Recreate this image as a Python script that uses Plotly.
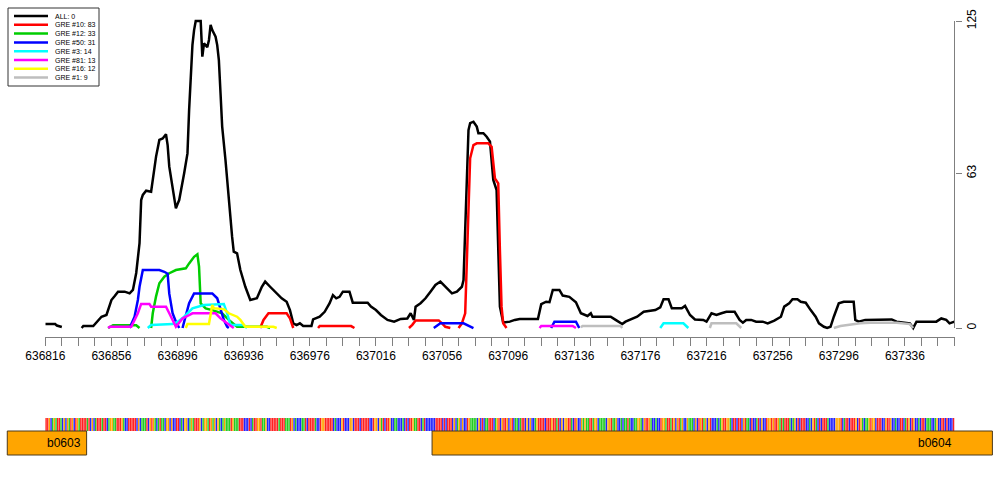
import plotly.graph_objects as go

# ---------------- data ----------------
VIEW_START = 636816
VIEW_END = 637366

series_names = ["ALL: 0", "GRE #10: 83", "GRE #12: 33", "GRE #50: 31",
                "GRE #3: 14", "GRE #81: 13", "GRE #16: 12", "GRE #1: 9"]
series_colors = ["#000000", "#FF0000", "#00CD00", "#0000FF",
                 "#00FFFF", "#FF00FF", "#FFFF00", "#BEBEBE"]

G = (None, None)

all_sites = [
    (636816, 1.6), (636822, 1.6), (636823, 1.0), (636826, 0.4), G,
    (636838, 0.0), (636839, 0.8), (636845, 0.8), (636847, 2.4), (636850, 4.6),
    (636853, 5.3), (636856, 11.4), (636858, 13.0), (636860, 14.8), (636864, 14.8),
    (636867, 14.1), (636869, 15.5), (636871, 22.4), (636873, 34.6), (636874, 52.1),
    (636875, 54.2), (636877, 55.9), (636880, 55.5), (636881, 60.3), (636883, 69.8),
    (636885, 76.6), (636887, 77.2), (636889, 78.9), (636890, 74.5), (636891, 65.7),
    (636893, 56.2), (636895, 48.7), (636896, 50.5), (636897, 52.1), (636900, 63.0),
    (636902, 71.1), (636903, 88.8), (636904, 102.3), (636905, 115.2), (636906, 121.3),
    (636907, 125.0), (636910, 125.0), (636911, 110.5), (636912, 115.9), (636914, 114.3),
    (636915, 117.3), (636916, 123.4), (636917, 121.3), (636919, 118.6), (636920, 115.2),
    (636921, 109.1), (636922, 95.6), (636923, 82.0), (636925, 68.4), (636927, 50.9),
    (636929, 37.2), (636930, 31.1), (636932, 30.4), (636934, 23.6), (636937, 16.8),
    (636940, 11.4), (636944, 12.1), (636947, 16.8), (636949, 18.9), (636952, 16.8),
    (636956, 14.1), (636959, 12.1), (636962, 10.7), (636964, 7.3), (636966, 1.9),
    (636968, 1.2), (636970, 1.9), (636972, 0.8), (636977, 0.8), (636978, 3.5),
    (636982, 4.6), (636985, 6.6), (636988, 10.1), (636990, 13.4), (636992, 12.1),
    (636994, 12.7), (636996, 14.8), (637000, 14.8), (637002, 10.3), (637008, 10.1),
    (637011, 10.3), (637013, 8.7), (637016, 7.3), (637019, 5.3), (637023, 3.3),
    (637027, 2.6), (637031, 3.7), (637035, 3.9), (637037, 6.0), (637039, 3.3),
    (637040, 8.7), (637043, 10.1), (637046, 12.1), (637049, 14.8), (637052, 17.5),
    (637055, 18.9), (637058, 16.8), (637062, 14.1), (637065, 14.8), (637068, 16.8),
    (637069, 19.5), (637070, 38.6), (637071, 65.7), (637072, 80.6), (637073, 83.4),
    (637075, 84.0), (637077, 82.0), (637078, 79.3), (637081, 79.3), (637083, 77.9),
    (637085, 75.9), (637087, 60.3), (637089, 56.2), (637090, 31.8), (637091, 8.7),
    (637093, 2.2), (637097, 2.6), (637100, 3.3), (637103, 3.7), (637114, 3.7),
    (637116, 9.7), (637119, 10.7), (637121, 10.5), (637123, 15.5), (637127, 15.5),
    (637129, 13.2), (637133, 12.7), (637137, 10.5), (637140, 6.0), (637144, 4.9),
    (637146, 6.0), (637147, 4.6), (637158, 4.6), (637161, 3.3), (637165, 1.6),
    (637167, 2.6), (637170, 3.5), (637174, 4.6), (637178, 6.6), (637185, 7.3),
    (637188, 8.4), (637190, 11.7), (637193, 11.7), (637195, 8.0), (637201, 8.0),
    (637203, 9.0), (637206, 5.3), (637209, 3.5), (637214, 3.3), (637216, 2.6),
    (637219, 6.0), (637222, 5.3), (637225, 6.0), (637228, 6.6), (637233, 6.6),
    (637236, 3.3), (637238, 2.2), (637240, 3.3), (637243, 3.3), (637246, 2.6),
    (637250, 2.6), (637253, 1.9), (637257, 3.0), (637261, 4.6), (637263, 8.7),
    (637266, 10.1), (637268, 11.7), (637271, 11.7), (637273, 10.7), (637276, 10.3),
    (637279, 7.3), (637282, 4.6), (637284, 1.9), (637287, 0.5), (637289, 0.0),
    (637291, 0.5), (637293, 4.6), (637296, 10.1), (637299, 10.7), (637305, 10.7),
    (637306, 3.3), (637308, 2.6), (637312, 3.3), (637319, 3.5), (637328, 3.5),
    (637331, 2.6), (637339, 1.9), (637341, 0.0), (637343, 2.6), (637355, 2.6),
    (637358, 3.9), (637361, 3.3), (637363, 1.9), (637366, 2.6),
]

gre10_sites = [
    (636946, 0), (636948, 3.3), (636951, 6.0), (636962, 6.0), (636964, 3.9), (636966, 0), G,
    (636981, 0), (636982, 0.8), (637001, 0.8), (637003, 0), G,
    (637036, 0), (637038, 1.3), (637040, 3.1), (637054, 3.1), (637056, 1.9), (637058, 0.5), (637061, 0), G,
    (637066, 0), (637068, 1.9), (637070, 6.0), (637071, 25.4), (637072, 52.5), (637073, 69.1),
    (637075, 74.5), (637077, 75.2), (637084, 75.2), (637086, 73.8), (637088, 60.9), (637090, 58.9),
    (637091, 31.8), (637092, 8.7), (637093, 1.9), (637095, 0),
]

gre12_sites = [
    (636854, 0), (636857, 1.1), (636871, 1.1), (636873, 0), G,
    (636880, 0), (636881, 6.0), (636883, 12.9), (636885, 18.2), (636888, 20.9), (636891, 22.3),
    (636895, 23.6), (636901, 24.3), (636903, 26.3), (636906, 29.0), (636908, 30.0), (636909, 25.0),
    (636910, 10.0), (636913, 8.0), (636917, 7.3), (636923, 6.0), (636927, 3.3), (636932, 0.5),
    (636950, 0.5), (636952, 0),
]

gre50_sites = [
    (636867, 0), (636870, 4.6), (636872, 11.4), (636873, 16.8), (636875, 23.6), (636885, 23.6),
    (636888, 22.9), (636890, 22.1), (636891, 14.0), (636893, 6.0), (636895, 2.6), (636897, 0), G,
    (636899, 0), (636901, 4.6), (636903, 10.1), (636906, 14.1), (636917, 14.1), (636920, 12.1),
    (636922, 7.3), (636924, 3.3), (636926, 0.5), (636927, 0), G,
    (637051, 0), (637053, 0.8), (637055, 1.9), (637069, 1.9), (637071, 1.2), (637073, 0.5), (637075, 0), G,
    (637122, 0), (637124, 2.6), (637137, 2.6), (637139, 0),
]

gre3_sites = [
    (636878, 0), (636880, 1.2), (636893, 1.6), (636896, 2.5), (636900, 4.6), (636905, 8.0),
    (636912, 9.4), (636924, 9.8), (636926, 6.0), (636928, 1.2), (636936, 1.2), (636938, 0), G,
    (637188, 0), (637190, 1.9), (637202, 1.9), (637205, 0),
]

gre81_sites = [
    (636854, 0), (636855, 0.5), (636868, 0.5), (636870, 3.3), (636872, 6.0), (636874, 9.8),
    (636879, 9.8), (636880, 8.7), (636889, 8.7), (636891, 6.0), (636893, 3.3), (636895, 0.5),
    (636897, 2.2), (636899, 3.9), (636902, 4.9), (636905, 6.0), (636919, 6.0), (636922, 3.9),
    (636926, 1.9), (636930, 0), G,
    (637115, 0), (637116, 0.8), (637135, 0.8), (637137, 0),
]

gre16_sites = [
    (636901, 0), (636902, 1.6), (636915, 1.6), (636916, 6.0), (636917, 9.4), (636918, 8.0),
    (636924, 7.7), (636927, 6.0), (636932, 4.6), (636934, 3.3), (636936, 1.6), (636937, 0.5),
    (636954, 0.5), (636956, 0),
]

gre1_sites = [
    (637140, 0.3), (637141, 0.8), (637164, 0.8), (637165, 0), G,
    (637218, 0), (637219, 1.9), (637234, 1.9), (637237, 0), G,
    (637293, 0), (637297, 0.8), (637309, 1.9), (637315, 2.1), (637331, 2.1), (637339, 1.6), (637341, 0),
]

y_ticks = [0, 63, 125]

# genes in view
gene_names = ["b0603", "b0604"]
gene_starts = [636793, 637050]
gene_ends = [636841, 637389]

# DNA sequence of the window (read approximately from the colour strip)
sequence = (
    "TTGCAGATTACGCGATGCTGATTTTATCGCATTTATTCAGGAATTTGACC"
    "TTTTTCGCAAATCGTGACATAACGGCGCCTTCACGGCAGATTTGCAGGAT"
    "GAGCGACAGAAATGAAATTTCCCTCATTGGTAAGCCTTTTTATTTAAATG"
    "CACCCAATCTTTTACCTGGTTTTTCACCCGTCCCGGCTTTCTTTTTCCTG"
    "GCGATCTTGCCAACCCACTCTTGAATTCATCCCCCCTTTTCTCTTTCGCA"
    "GCGCCTGAAAACGCTCAATTTCAGTCGTTGCGTCAACATTCGCGCCAGTT"
    "TTCTTTGTTATCGCGGTTACTGCCGAGAATTAGGCAAAACGGTAAGCCAC"
    "AATACCAAGGACGTTGACCACCTGGATTATGCGTAGCCGAAACGCTGTAG"
    "CGTCCCACAGTTGGACTTCTTCGTAACTCCATCGCCTGGTGTTGATATTT"
    "ACAGCTCTTTCCACGTACTCTTTACCCCGGGTCATTCTTTGCTGACAAGT"
    "GGCTTTCCGTTGCCACCTTCATGCTGCCACTTCAAACCAGCCTTCTCCCT"
)
base_colors = {"A": "#22CC22", "C": "#2222FF", "G": "#FFA500", "T": "#FF2020"}

# ---------------- figure ----------------
FONT = "Liberation Sans, Arial, Helvetica, sans-serif"
W, H = 1000, 500

all_series = [all_sites, gre10_sites, gre12_sites, gre50_sites,
              gre3_sites, gre81_sites, gre16_sites, gre1_sites]

fig = go.Figure()
for sites, color in zip(all_series, series_colors):
    fig.add_trace(go.Scatter(
        x=[p for p, v in sites], y=[v for p, v in sites],
        mode="lines", line=dict(color=color, width=2.5),
        connectgaps=False, showlegend=False, hoverinfo="skip",
        xaxis="x", yaxis="y"))

# sequence strip
seq_pos = [VIEW_START + i + 0.5 for i in range(len(sequence))]
fig.add_trace(go.Bar(
    x=seq_pos, y=[13] * len(sequence), base=[69] * len(sequence),
    width=0.85, marker=dict(color=[base_colors[b] for b in sequence], line=dict(width=0)),
    opacity=1.0, showlegend=False, hoverinfo="skip", xaxis="x2", yaxis="y2"))

shapes = []
annotations = []

# y axis line only over the 0..max span
shapes.append(dict(type="line", xref="x domain", yref="y", x0=1, x1=1,
                   y0=y_ticks[0], y1=y_ticks[-1], line=dict(color="#7F7F7F", width=1)))

# gene boxes
for name, s, e in zip(gene_names, gene_starts, gene_ends):
    shapes.append(dict(type="rect", xref="x2", yref="y2", x0=s, x1=e, y0=45, y1=69,
                       fillcolor="#FFA500", line=dict(color="#4D3A1A", width=1), layer="above"))
annotations.append(dict(x=VIEW_START, y=57, xref="x2", yref="y2", text=gene_names[0],
                        showarrow=False, xanchor="left", yanchor="middle",
                        font=dict(family=FONT, size=12, color="#000000")))
annotations.append(dict(x=VIEW_END, y=57, xref="x2", yref="y2", text=gene_names[1],
                        showarrow=False, xanchor="right", yanchor="middle",
                        font=dict(family=FONT, size=12, color="#000000")))

# legend (drawn manually to reproduce its compact size)
lx0, lx1, ly0, ly1 = 8, 99, 8, 86
shapes.append(dict(type="rect", xref="paper", yref="paper",
                   x0=lx0 / W, x1=lx1 / W, y0=1 - ly1 / H, y1=1 - ly0 / H,
                   line=dict(color="#333333", width=1), fillcolor="white", layer="above"))
for i, (name, color) in enumerate(zip(series_names, series_colors)):
    yy = 1 - (16 + 8.8 * i) / H
    shapes.append(dict(type="line", xref="paper", yref="paper",
                       x0=14 / W, x1=48 / W, y0=yy, y1=yy,
                       line=dict(color=color, width=2.5), layer="above"))
    annotations.append(dict(x=53 / W, y=yy, xref="paper", yref="paper", text=name,
                            showarrow=False, xanchor="left", yanchor="middle",
                            font=dict(family=FONT, size=7, color="#000000")))

tick_vals = list(range(VIEW_START, VIEW_END + 1, 10))
tick_text = [str(v) if (v - VIEW_START) % 40 == 0 else "" for v in tick_vals]

fig.update_layout(
    width=W, height=H, margin=dict(l=0, r=0, t=0, b=0, pad=0), autosize=False,
    paper_bgcolor="white", plot_bgcolor="white",
    font=dict(family=FONT, size=12, color="#000000"),
    hovermode=False, showlegend=False,
    xaxis=dict(domain=[0.0453, 0.9545], range=[VIEW_START, VIEW_END], anchor="y",
               automargin=False,
               showgrid=False, zeroline=False, showline=True, linecolor="#7F7F7F", linewidth=1,
               ticks="outside", ticklen=8, tickcolor="#7F7F7F", tickwidth=1,
               tickvals=tick_vals, ticktext=tick_text,
               tickfont=dict(family=FONT, size=12, color="#000000")),
    yaxis=dict(domain=[0.326, 0.97], range=[-3.66, 127.45], anchor="x", side="right",
               automargin=False,
               showgrid=False, zeroline=False, showline=False,
               ticks="outside", ticklen=6, tickcolor="#7F7F7F", tickwidth=1,
               tickvals=y_ticks, ticktext=[str(v) for v in y_ticks], tickangle=-90,
               tickfont=dict(family=FONT, size=12, color="#000000")),
    xaxis2=dict(domain=[0, 1], range=[636788.6, 637393.6], anchor="y2", visible=False,
                automargin=False),
    yaxis2=dict(domain=[0, 0.24], range=[0, 120], anchor="x2", visible=False,
                automargin=False),
    shapes=shapes, annotations=annotations,
)

fig.write_html("out.html", config={"displayModeBar": False, "staticPlot": True},
               post_script="document.body.style.margin='0px';document.body.style.overflow='hidden';")
